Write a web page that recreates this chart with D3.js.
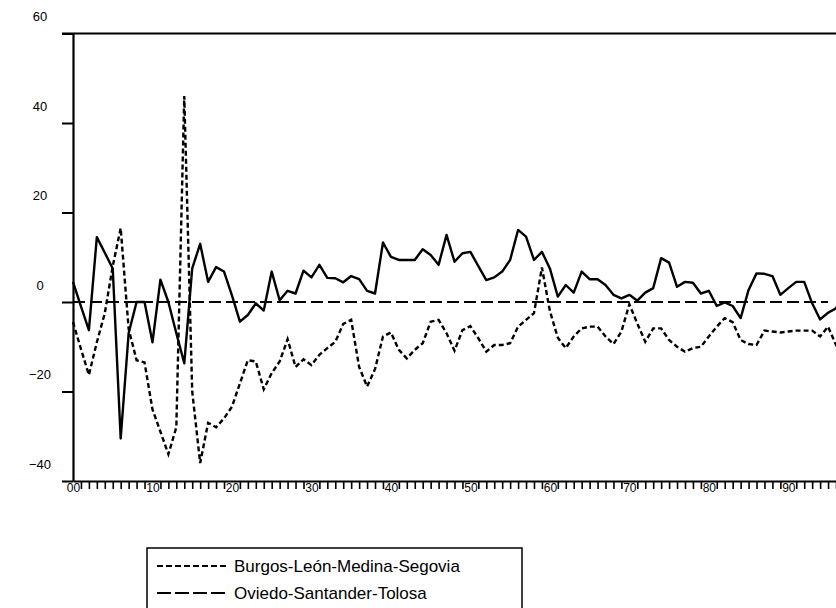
<!DOCTYPE html>
<html>
<head>
<meta charset="utf-8">
<script src="https://cdn.jsdelivr.net/npm/d3@7"></script>
<style>
    body { margin: 0; background: #fff; }
    svg { display: block; font-family: "Liberation Sans", Arial, sans-serif; }
</style>
</head>
<body>
<div id="chart-area"></div>
<script>
// Serie continua (sin leyenda visible)
var solidSeries = [
    4.5, -1, -6.3, 14.5, 11, 7.5, -30.5, -7, 0, 0,
    -9, 5, 0, -7, -13.7, 7.5, 13, 4.5, 7.8, 6.8,
    1.5, -4.4, -2.9, -0.3, -1.9, 6.8, 0.4, 2.5, 1.9, 7,
    5.5, 8.3, 5.4, 5.3, 4.4, 5.8, 5.1, 2.5, 1.9, 13.3,
    10.1, 9.4, 9.4, 9.4, 11.8, 10.5, 8.3, 15, 9, 10.9,
    11.2, 8, 4.9, 5.5, 6.8, 9.4, 16.1, 14.6, 9.4, 11.2,
    7.5, 1.2, 3.8, 2.1, 6.8, 5.1, 5.1, 3.8, 1.6, 0.8,
    1.6, 0.3, 2.1, 3.1, 9.8, 8.8, 3.4, 4.5, 4.3, 1.9,
    2.5, -0.9, -0.1, -0.9, -3.6, 2.7, 6.4, 6.3, 5.8, 1.6,
    3.1, 4.5, 4.5, -0.3, -3.9, -2.4, -1.4, 2
];

// Burgos-León-Medina-Segovia (guiones cortos)
var burgosSeries = [
    -4.5, -10.5, -16.3, -9, -2.5, 8, 16.5, -6, -13, -13.5,
    -24, -29, -34, -28, 46, -20, -36, -27, -28, -26,
    -23.4, -18.2, -13, -13.3, -19.5, -15.9, -13.3, -8.3, -14.5, -12.8,
    -14.1, -11.8, -10.3, -8.9, -4.9, -4, -14.5, -18.9, -15, -7.7,
    -6.8, -10.7, -12.6, -10.7, -9.2, -4.4, -4, -7, -10.9, -6.3,
    -5.4, -8.1, -11.1, -9.6, -9.6, -9.2, -5.5, -4, -2.5, 7.7,
    -2, -8, -10.3, -7.7, -5.9, -5.5, -5.5, -7.7, -9.4, -6.6,
    -0.5, -4.8, -8.9, -5.9, -5.9, -8.5, -10, -11.1, -10.3, -10,
    -7.7, -5.5, -3.6, -4.5, -8.5, -9.4, -9.6, -6.4, -6.6, -6.8,
    -6.6, -6.4, -6.4, -6.4, -7.7, -5.5, -9.6, -8.3
];

// Oviedo-Santander-Tolosa (guiones largos, referencia en cero)
var oviedoSeries = [
    0, 0, 0, 0, 0, 0, 0, 0, 0, 0,
    0, 0, 0, 0, 0, 0, 0, 0, 0, 0,
    0, 0, 0, 0, 0, 0, 0, 0, 0, 0,
    0, 0, 0, 0, 0, 0, 0, 0, 0, 0,
    0, 0, 0, 0, 0, 0, 0, 0, 0, 0,
    0, 0, 0, 0, 0, 0, 0, 0, 0, 0,
    0, 0, 0, 0, 0, 0, 0, 0, 0, 0,
    0, 0, 0, 0, 0, 0, 0, 0, 0, 0,
    0, 0, 0, 0, 0, 0, 0, 0, 0, 0,
    0, 0, 0, 0, 0, 0
];

var yTicks = [-40, -20, 0, 20, 40, 60];
var xLabelYears = [0, 10, 20, 30, 40, 50, 60, 70, 80, 90];
var xLabels = ["00", "10", "20", "30", "40", "50", "60", "70", "80", "90"];
var legendNames = ["Burgos-León-Medina-Segovia", "Oviedo-Santander-Tolosa"];

var width = 836, height = 608;

var svg = d3.select("#chart-area").append("svg")
    .attr("width", width)
    .attr("height", height);

// Escalas
var x = d3.scaleLinear().domain([0, 96]).range([73, 836]);
var y = d3.scaleLinear().domain([-40, 60]).range([481, 33.5]);

// Línea superior del marco
svg.append("line")
    .attr("x1", 62).attr("x2", width)
    .attr("y1", y(60)).attr("y2", y(60))
    .attr("stroke", "#000").attr("stroke-width", 2);

// Eje Y
var yAxis = svg.append("g")
    .attr("transform", "translate(73,0)")
    .call(d3.axisLeft(y).tickValues(yTicks).tickSize(11).tickSizeOuter(0));
yAxis.attr("font-family", null).attr("font-size", 13);
yAxis.select(".domain").attr("stroke-width", 2.2);
yAxis.selectAll(".tick line").attr("stroke-width", 2);
yAxis.selectAll(".tick text")
    .attr("x", -33)
    .attr("y", -17)
    .attr("text-anchor", "middle")
    .attr("fill", "#000");

// Eje X: marcas menores cada año
var minorYears = d3.range(1, 97).filter(d => d % 10 !== 0);
var xAxisMinor = svg.append("g")
    .attr("transform", "translate(0," + y(-40) + ")")
    .call(d3.axisBottom(x).tickValues(minorYears).tickSize(8).tickSizeOuter(0).tickFormat(""));
xAxisMinor.select(".domain").attr("stroke-width", 2.2);
xAxisMinor.selectAll(".tick line").attr("stroke-width", 1.6);

// Eje X: etiquetas de década
var xAxisMajor = svg.append("g")
    .attr("transform", "translate(0," + y(-40) + ")")
    .call(d3.axisBottom(x).tickValues(xLabelYears).tickSize(0).tickPadding(2)
        .tickFormat((d, i) => xLabels[i]));
xAxisMajor.attr("font-family", null).attr("font-size", 12);
xAxisMajor.select(".domain").remove();
xAxisMajor.selectAll(".tick text").attr("fill", "#000");

// Líneas de datos
var line = d3.line()
    .x((d, i) => x(i))
    .y(d => y(d));

svg.append("path")
    .datum(oviedoSeries)
    .attr("d", line)
    .attr("fill", "none")
    .attr("stroke", "#000")
    .attr("stroke-width", 2.2)
    .attr("stroke-dasharray", "12,5");

svg.append("path")
    .datum(burgosSeries)
    .attr("d", line)
    .attr("fill", "none")
    .attr("stroke", "#000")
    .attr("stroke-width", 2.4)
    .attr("stroke-dasharray", "5,3");

svg.append("path")
    .datum(solidSeries)
    .attr("d", line)
    .attr("fill", "none")
    .attr("stroke", "#000")
    .attr("stroke-width", 2.4)
    .attr("stroke-linejoin", "round");

// Leyenda
var legend = svg.append("g");
legend.append("rect")
    .attr("x", 147).attr("y", 548)
    .attr("width", 375).attr("height", 80)
    .attr("fill", "none")
    .attr("stroke", "#000")
    .attr("stroke-width", 1.5);

var legendDash = ["6,3", "14,4"];
legendNames.forEach(function(name, i) {
    var ly = 566 + i * 27;
    legend.append("line")
        .attr("x1", 157).attr("x2", 227)
        .attr("y1", ly).attr("y2", ly)
        .attr("stroke", "#000")
        .attr("stroke-width", 1.8)
        .attr("stroke-dasharray", legendDash[i]);
    legend.append("text")
        .attr("x", 234).attr("y", ly + 6)
        .attr("font-size", 17)
        .attr("fill", "#000")
        .text(name);
});
</script>
</body>
</html>
